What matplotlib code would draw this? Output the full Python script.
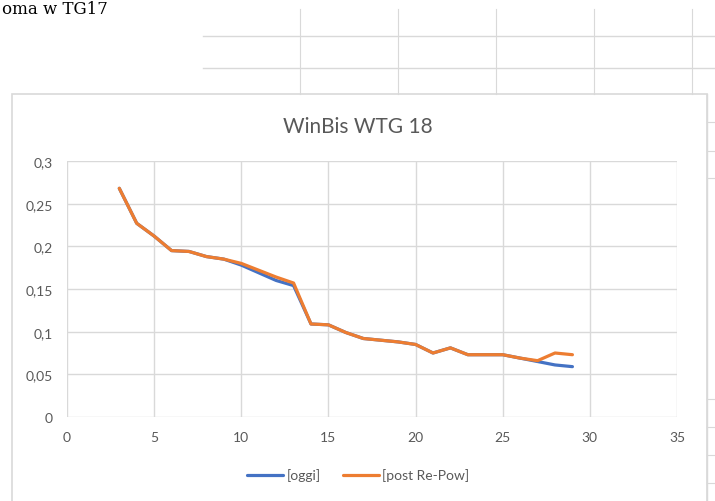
import matplotlib.pyplot as plt
from matplotlib.patches import Rectangle
from matplotlib.lines import Line2D
from matplotlib.ticker import FuncFormatter

# wind speed bins and the two loss curves
ws = list(range(3, 30))
oggi = [0.268, 0.227, 0.212, 0.195, 0.194, 0.188, 0.185, 0.178, 0.169, 0.160,
        0.154, 0.109, 0.108, 0.099, 0.092, 0.090, 0.088, 0.085, 0.075, 0.081,
        0.073, 0.073, 0.073, 0.069, 0.065, 0.061, 0.059]
post = [0.268, 0.227, 0.212, 0.195, 0.194, 0.188, 0.185, 0.180, 0.172, 0.164,
        0.157, 0.109, 0.108, 0.099, 0.092, 0.090, 0.088, 0.085, 0.075, 0.081,
        0.073, 0.073, 0.073, 0.069, 0.066, 0.075, 0.073]
series_names = ['[oggi]', '[post Re-Pow]']
x_ticks = [0, 5, 10, 15, 20, 25, 30, 35]
y_ticks = [0, 0.05, 0.1, 0.15, 0.2, 0.25, 0.3]

W, H = 715, 502
plt.rcParams['font.family'] = ['Lato', 'DejaVu Sans']
fig = plt.figure(figsize=(W / 100, H / 100), dpi=100)
grid_c = '#D9D9D9'
txt_c = '#595959'

def px(x, y):
    # pixel (from top-left) -> figure fraction
    return x / W, 1 - y / H

# spreadsheet background bits around the chart
for yy in [37, 69]:
    fig.add_artist(Line2D([203 / W, 1], [1 - yy / H] * 2, color=grid_c, lw=1))
for xx in [300, 398, 496, 594, 692]:
    fig.add_artist(Line2D([xx / W] * 2, [1 - 10 / H, 1 - 95 / H], color=grid_c, lw=0.8))
fig.add_artist(Line2D([707 / W] * 2, [0, 1 - 95 / H], color=grid_c, lw=1))
for yy in [123, 152, 179, 400, 428, 456, 484]:
    fig.add_artist(Line2D([707 / W, 1], [1 - yy / H] * 2, color=grid_c, lw=0.8))
fig.text(2 / W, 1 - 1 / H, 'oma w TG17', family='DejaVu Serif', fontsize=12,
         va='top', ha='left', color='black')

# chart frame
fig.add_artist(Rectangle(px(12, 505), 695 / W, 410 / H, transform=fig.transFigure,
                         fill=False, edgecolor=grid_c, lw=1.2))

ax = fig.add_axes([67 / W, 1 - 418 / H, 610 / W, 256 / H])
ax.plot(ws, oggi, color='#4472C4', lw=2.3, label=series_names[0], solid_capstyle='round')
ax.plot(ws, post, color='#ED7D31', lw=2.3, label=series_names[1], solid_capstyle='round')

ax.set_xlim(0, 35)
ax.set_ylim(0, 0.3)
ax.set_xticks(x_ticks)
ax.set_yticks(y_ticks)
ax.yaxis.set_major_formatter(FuncFormatter(lambda v, p: ('%g' % round(v, 2)).replace('.', ',')))
ax.grid(True, color=grid_c, lw=1)
ax.set_axisbelow(True)
for s in ax.spines.values():
    s.set_visible(False)
ax.tick_params(length=0, labelsize=10, colors=txt_c, pad=10)

fig.text(358 / W, 1 - 127 / H, 'WinBis WTG 18', ha='center', va='center',
         fontsize=15, color=txt_c)

fig.legend(loc='center', bbox_to_anchor=(358 / W, 1 - 476 / H), ncol=2, frameon=False,
           fontsize=10, labelcolor=txt_c, handlelength=2.6, handletextpad=0.2,
           columnspacing=1.6)

fig.savefig('out.png', dpi=100)
